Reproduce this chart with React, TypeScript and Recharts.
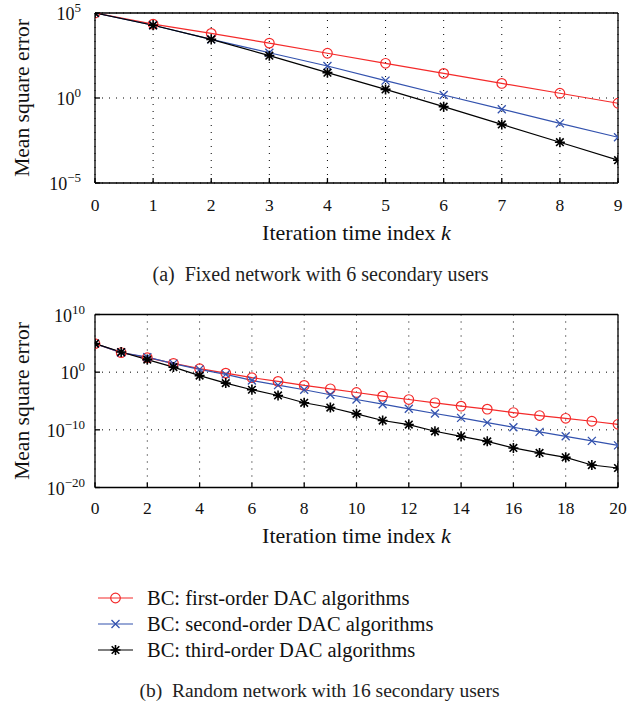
import React from 'react';
import { LineChart, Line, XAxis, YAxis, CartesianGrid, Legend, Label } from 'recharts';

const FONT = '"Liberation Serif", "Times New Roman", serif';

// (a) Fixed network with 6 secondary users
const fixedK = [0, 1, 2, 3, 4, 5, 6, 7, 8, 9];
const fixedFirst = [1e5, 2.2e4, 6.3e3, 1.7e3, 430, 110, 28, 7.2, 1.9, 0.49];
const fixedSecond = [1e5, 1.9e4, 2.8e3, 460, 76, 10.5, 1.5, 0.22, 0.032, 4.9e-3];
const fixedThird = [1e5, 1.9e4, 2.8e3, 310, 31, 3.2, 0.31, 0.028, 2.5e-3, 2.2e-4];
const fixedXTicks = [0, 1, 2, 3, 4, 5, 6, 7, 8, 9];
const fixedYTicks = [1e-5, 1, 1e5];

// (b) Random network with 16 secondary users
const randomK = [0, 1, 2, 3, 4, 5, 6, 7, 8, 9, 10, 11, 12, 13, 14, 15, 16, 17, 18, 19, 20];
const randomFirst = [9e4, 2.5e3, 330, 34, 4, 0.69, 0.11, 0.025, 5e-3, 1.3e-3, 3e-4, 6.9e-5, 1.8e-5, 4.9e-6, 1.26e-6, 3.8e-7, 1.0e-7, 3e-8, 1.0e-8, 3.1e-9, 9.1e-10];
const randomSecond = [9e4, 2.5e3, 400, 30, 3, 0.41, 0.037, 5.6e-3, 8.9e-4, 1.2e-4, 1.8e-5, 2.8e-6, 4.4e-7, 6.8e-8, 1.2e-8, 1.8e-9, 2.8e-10, 4.4e-11, 7.6e-12, 1.2e-12, 2.0e-13];
const randomThird = [9e4, 3.1e3, 150, 7.6, 0.25, 0.0126, 8.9e-4, 9.1e-5, 4.9e-6, 7.4e-7, 5.9e-8, 4.1e-9, 8.1e-10, 5.6e-11, 7.6e-12, 1.0e-12, 7.2e-14, 9.8e-15, 1.7e-15, 7.9e-17, 2.4e-17];
const randomXTicks = [0, 2, 4, 6, 8, 10, 12, 14, 16, 18, 20];
const randomYTicks = [1e-20, 1e-10, 1, 1e10];

const seriesNames = [
  'BC: first-order DAC algorithms',
  'BC: second-order DAC algorithms',
  'BC: third-order DAC algorithms',
];
const captionA = '(a)\u00a0\u00a0Fixed network with 6 secondary users';
const captionB = '(b)\u00a0\u00a0Random network with 16 secondary users';
const yTitle = 'Mean square error';
const xTitle = 'Iteration time index ';

const RED = '#f42a2a';
const BLUE = '#3352ae';
const BLACK = '#000000';

const fixedData = fixedK.map((k, i) => ({ k, first: fixedFirst[i], second: fixedSecond[i], third: fixedThird[i] }));
const randomData = randomK.map((k, i) => ({ k, first: randomFirst[i], second: randomSecond[i], third: randomThird[i] }));

const circleMark = (cx: number, cy: number, key?: any) => (
  <circle key={key} cx={cx} cy={cy} r={4.8} fill="none" stroke={RED} strokeWidth={1.2} />
);
const crossMark = (cx: number, cy: number, key?: any) => (
  <path key={key} d={`M${cx - 4} ${cy - 4}L${cx + 4} ${cy + 4}M${cx - 4} ${cy + 4}L${cx + 4} ${cy - 4}`} stroke={BLUE} strokeWidth={1.3} fill="none" />
);
const starMark = (cx: number, cy: number, key?: any) => (
  <path
    key={key}
    d={`M${cx} ${cy - 5}L${cx} ${cy + 5}M${cx - 5} ${cy}L${cx + 5} ${cy}M${cx - 3.8} ${cy - 3.8}L${cx + 3.8} ${cy + 3.8}M${cx - 3.8} ${cy + 3.8}L${cx + 3.8} ${cy - 3.8}`}
    stroke={BLACK}
    strokeWidth={1.6}
    fill="none"
  />
);
const marks = [circleMark, crossMark, starMark];
const colors = [RED, BLUE, BLACK];

const dotFn = (m: number) => (props: any) => {
  const { cx, cy, index } = props;
  if (cx == null || cy == null) return <g key={`e${index}`} />;
  return marks[m](cx, cy, `d${m}-${index}`);
};

const PowerTick = (props: any) => {
  const { x, y, payload } = props;
  const e = Math.round(Math.log10(payload.value));
  const s = e < 0 ? '\u2212' + Math.abs(e) : String(e);
  return (
    <text x={x} y={y + 7} textAnchor="end" fontFamily={FONT} fontSize={18} fill="#111">
      <tspan>10</tspan>
      <tspan dy={-8} fontSize={13}>{s}</tspan>
    </text>
  );
};

const NumTick = (props: any) => {
  const { x, y, payload } = props;
  return (
    <text x={x} y={y + 12} textAnchor="middle" fontFamily={FONT} fontSize={17.5} fill="#111">
      {payload.value}
    </text>
  );
};

const xTitleContent = (dy: number) => (props: any) => {
  const vb = props.viewBox || {};
  const cx = vb.x + vb.width / 2;
  const y = vb.y + dy;
  return (
    <text x={cx} y={y} textAnchor="middle" fontFamily={FONT} fontSize={22} fill="#111">
      <tspan>{xTitle}</tspan>
      <tspan fontStyle="italic">k</tspan>
    </text>
  );
};

const yTitleContent = (cx: number, cy: number) => () => (
  <text
    x={cx}
    y={cy}
    transform={`rotate(-90, ${cx}, ${cy})`}
    textAnchor="middle"
    dominantBaseline="central"
    fontFamily={FONT}
    fontSize={21.5}
    fill="#111"
  >
    {yTitle}
  </text>
);

const LegendContent = (props: any) => {
  const payload = props.payload || [];
  return (
    <svg width={629} height={80}>
      {payload.map((p: any, i: number) => {
        const y = 10 + i * 26;
        return (
          <g key={i}>
            <line x1={98} x2={133} y1={y} y2={y} stroke={colors[i]} strokeWidth={1.2} />
            {marks[i](115.5, y)}
            <text x={147} y={y + 7} fontFamily={FONT} fontSize={20.5} fill="#111">
              {p.value}
            </text>
          </g>
        );
      })}
    </svg>
  );
};

const axisStroke = { stroke: '#000', strokeWidth: 1.3 };

function Panel(props: {
  data: any[];
  xTicks: number[];
  yTicks: number[];
  xMax: number;
  yDomain: [number, number];
  height: number;
  marginTop: number;
  marginBottom: number;
  yTickMargin: number;
  xTickMargin: number;
  xTitleDy: number;
  yTitleY: number;
  legend?: boolean;
}) {
  const { data, xTicks, yTicks, xMax, yDomain, height, marginTop, marginBottom, yTickMargin, xTickMargin, xTitleDy, yTitleY, legend } = props;
  return (
    <LineChart width={629} height={height} data={data} margin={{ top: marginTop, right: 10, bottom: marginBottom, left: 0 }}>
      <CartesianGrid stroke="#000" strokeDasharray="1 6" strokeWidth={1} />
      <XAxis
        dataKey="k"
        type="number"
        domain={[0, xMax]}
        ticks={xTicks}
        allowDataOverflow
        axisLine={axisStroke}
        tickLine={axisStroke}
        tickSize={-5}
        tickMargin={xTickMargin}
        tick={<NumTick />}
        height={60}
        interval={0}
      >
        <Label content={xTitleContent(xTitleDy)} />
      </XAxis>
      <XAxis
        xAxisId="top"
        orientation="top"
        type="number"
        domain={[0, xMax]}
        ticks={xTicks}
        allowDataOverflow
        axisLine={axisStroke}
        tickLine={axisStroke}
        tickSize={-5}
        tick={false}
        height={1}
        interval={0}
      />
      <YAxis
        type="number"
        scale="log"
        domain={yDomain}
        ticks={yTicks}
        allowDataOverflow
        axisLine={axisStroke}
        tickLine={axisStroke}
        tickSize={-5}
        tickMargin={yTickMargin}
        tick={<PowerTick />}
        width={95}
        interval={0}
      >
        <Label content={yTitleContent(22, yTitleY)} />
      </YAxis>
      <YAxis
        yAxisId="right"
        orientation="right"
        type="number"
        scale="log"
        domain={yDomain}
        ticks={yTicks}
        allowDataOverflow
        axisLine={axisStroke}
        tickLine={axisStroke}
        tickSize={-5}
        tick={false}
        width={1}
        interval={0}
      />
      <Line dataKey="first" name={seriesNames[0]} stroke={RED} strokeWidth={1.2} dot={dotFn(0)} isAnimationActive={false} />
      <Line dataKey="second" name={seriesNames[1]} stroke={BLUE} strokeWidth={1.2} dot={dotFn(1)} isAnimationActive={false} />
      <Line dataKey="third" name={seriesNames[2]} stroke={BLACK} strokeWidth={1.2} dot={dotFn(2)} isAnimationActive={false} />
      {legend && (
        <Legend
          layout="horizontal"
          verticalAlign="middle"
          align="center"
          content={<LegendContent />}
          wrapperStyle={{ position: 'absolute', top: 288, left: 0, width: 629, height: 80 }}
        />
      )}
    </LineChart>
  );
}

export default function App() {
  return (
    <div style={{ position: 'absolute', left: 0, top: 0, width: 629, height: 704, background: '#fff', fontFamily: FONT }}>
      <div style={{ position: 'absolute', left: 0, top: 0 }}>
        <Panel
          data={fixedData}
          xTicks={fixedXTicks}
          yTicks={fixedYTicks}
          xMax={9}
          yDomain={[1e-5, 1e5]}
          height={244}
          marginTop={12}
          marginBottom={1}
          yTickMargin={19}
          xTickMargin={21}
          xTitleDy={57}
          yTitleY={98}
        />
      </div>
      <div style={{ position: 'absolute', left: 6, top: 263, width: 629, textAlign: 'center', fontSize: 20, lineHeight: '23px', color: '#222' }}>
        {captionA}
      </div>
      <div style={{ position: 'absolute', left: 0, top: 300 }}>
        <Panel
          data={randomData}
          xTicks={randomXTicks}
          yTicks={randomYTicks}
          xMax={20}
          yDomain={[1e-20, 1e10]}
          height={400}
          marginTop={13.5}
          marginBottom={152.5}
          yTickMargin={15}
          xTickMargin={19}
          xTitleDy={55}
          yTitleY={101}
          legend
        />
      </div>
      <div style={{ position: 'absolute', left: 0, top: 679, width: 629, textAlign: 'center', fontSize: 19.5, lineHeight: '23px', color: '#222', paddingLeft: 10, boxSizing: 'border-box' }}>
        {captionB}
      </div>
    </div>
  );
}
